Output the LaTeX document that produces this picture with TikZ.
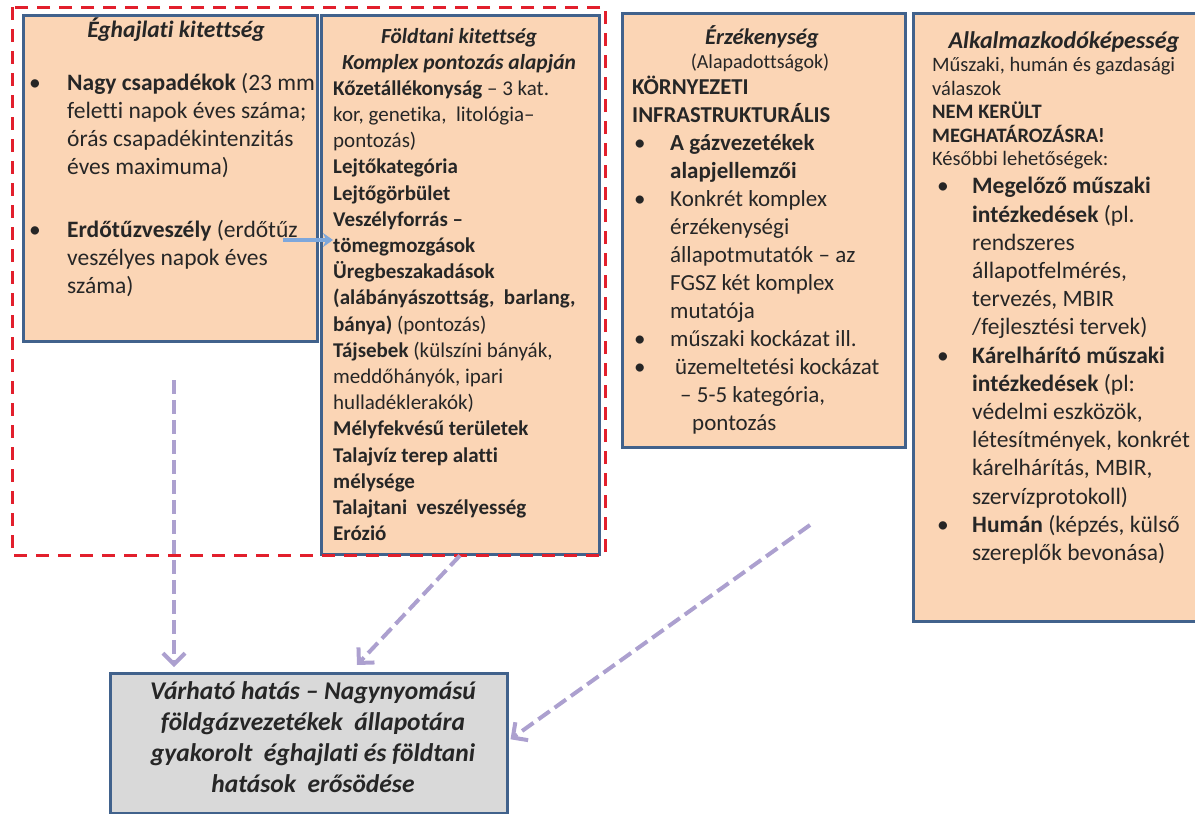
\documentclass[tikz,border=0pt]{standalone}
\usepackage{fontspec}
\setmainfont{Carlito}[Ligatures={TeX,NoCommon}]
\usetikzlibrary{arrows.meta,calc}
\definecolor{peach}{HTML}{FBD5B5}
\definecolor{frame}{HTML}{41628C}
\definecolor{reddash}{HTML}{E21F2C}
\definecolor{lilac}{HTML}{ACA0CF}
\definecolor{skyarrow}{HTML}{7EA7DB}
\definecolor{greyfill}{HTML}{D9D9D9}
\definecolor{ink}{HTML}{262626}
\begin{document}
\begin{tikzpicture}[x=1pt,y=-1pt,
  panel/.style={draw=frame, line width=2.5pt, fill=peach, anchor=north west, inner sep=0pt},
  resultbox/.style={draw=frame, line width=2.5pt, fill=greyfill, anchor=north west, inner sep=0pt},
  txt/.style={inner sep=0pt, align=left, anchor=north west, text=ink},
  ctxt/.style={inner sep=0pt, align=center, text=ink},
  impact/.style={draw=lilac, line width=4pt, dash pattern=on 14pt off 6pt,
    -{Straight Barb[length=11pt,width=22pt]}},
  flow/.style={draw=skyarrow, line width=3.5pt, -{Stealth[length=10pt,width=14pt]}},
  scope frame/.style={draw=reddash, line width=3pt, dash pattern=on 13pt off 9pt}
]
\useasboundingbox (0,0) rectangle (1195,814);
\clip (0,0) rectangle (1195,814);

% ---- panels ----
\node[panel, minimum width=294pt, minimum height=326pt] (b1) at (22,14) {};
\node[panel, minimum width=278pt, minimum height=539pt] (b2) at (320,14) {};
\node[panel, minimum width=283pt, minimum height=434pt] (b3) at (621,12) {};
\node[panel, minimum width=300pt, minimum height=608pt] (b4) at (912,12) {};
\node[resultbox, minimum width=397pt, minimum height=140pt] (b5) at (109,672) {};

% ---- climate exposure ----
\node[ctxt, anchor=base, font=\fontsize{23.5}{27}\selectfont\bfseries\itshape] (t1) at (176,37) {Éghajlati kitettség};
\node[txt, font=\fontsize{23.5}{28}\selectfont] (c1) at (28,70.4) {\strut\makebox[39pt][l]{\hspace{1pt}•}\textbf{Nagy csapadékok} (23 mm\\
\hspace*{39pt}feletti napok éves száma;\\
\hspace*{39pt}órás csapadékintenzitás\\
\hspace*{39pt}éves maximuma)};
\node[txt, font=\fontsize{23.5}{28}\selectfont] (c2) at (28,217.4) {\strut\makebox[39pt][l]{\hspace{1pt}•}\textbf{Erdőtűzveszély} (erdőtűz\\
\hspace*{39pt}veszélyes napok éves\\
\hspace*{39pt}száma)};

% ---- geological exposure ----
\node[ctxt, anchor=north, font=\fontsize{21.5}{26.2}\selectfont\bfseries\itshape] (t2) at (459,24.7) {\strut Földtani kitettség\\ Komplex pontozás alapján};
\node[txt, font=\fontsize{21}{26.2}\selectfont] (g1) at (333,76.7) {\strut\textbf{Kőzetállékonyság} – 3 kat.\\
kor, genetika,\ \ litológia–\\
pontozás)\\
\textbf{Lejtőkategória}\\
\textbf{Lejtőgörbület}\\
\textbf{Veszélyforrás –}\\
\textbf{tömegmozgások}\\
\textbf{Üregbeszakadások}\\
\textbf{(alábányászottság,\ \ barlang,}\\
\textbf{bánya)} (pontozás)\\
\textbf{Tájsebek} (külszíni bányák,\\
meddőhányók, ipari\\
hulladéklerakók)\\
\textbf{Mélyfekvésű területek}\\
\textbf{Talajvíz\ terep alatti}\\
\textbf{mélysége}\\
\textbf{Talajtani\ \ veszélyesség}\\
\textbf{Erózió}};

% ---- sensitivity ----
\node[ctxt, anchor=base, font=\fontsize{22.5}{26}\selectfont\bfseries\itshape] (t3) at (762,44) {Érzékenység};
\node[ctxt, anchor=base, font=\fontsize{20}{23}\selectfont] (s3) at (760,68) {(Alapadottságok)};
\node[txt, font=\fontsize{22.7}{25.5}\selectfont\bfseries] (k3) at (632,76) {\strut KÖRNYEZETI\\ INFRASTRUKTURÁLIS};
\node[txt, font=\fontsize{23}{28}\selectfont] (e3) at (632,130.4) {\strut\makebox[38pt][l]{\hspace{2pt}•}\textbf{A gázvezetékek}\\
\hspace*{38pt}\textbf{alapjellemzői}\\
\makebox[38pt][l]{\hspace{2pt}•}Konkrét komplex\\
\hspace*{38pt}érzékenységi\\
\hspace*{38pt}állapotmutatók – az\\
\hspace*{38pt}FGSZ két komplex\\
\hspace*{38pt}mutatója\\
\makebox[38pt][l]{\hspace{2pt}•}műszaki kockázat ill.\\
\makebox[38pt][l]{\hspace{2pt}•}\hspace*{5pt}üzemeltetési kockázat\\
\hspace*{48pt}– 5-5 kategória,\\
\hspace*{60pt}pontozás};

% ---- adaptive capacity ----
\node[ctxt, anchor=base, font=\fontsize{24}{28}\selectfont\bfseries\itshape] (t4) at (1064,48) {Alkalmazkodóképesség};
\node[txt, font=\fontsize{20.5}{23.5}\selectfont] (n4) at (932,55) {\strut Műszaki, humán és gazdasági\\
válaszok\\
\textbf{NEM KERÜLT}\\
\textbf{MEGHATÁROZÁSRA!}\\
Későbbi lehetőségek:};
\node[txt, font=\fontsize{23.5}{28.2}\selectfont] (m4) at (935,174) {\strut\makebox[37pt][l]{\hspace{2pt}•}\textbf{Megelőző műszaki}\\
\hspace*{37pt}\textbf{intézkedések} (pl.\\
\hspace*{37pt}rendszeres\\
\hspace*{37pt}állapotfelmérés,\\
\hspace*{37pt}tervezés, MBIR\\
\hspace*{37pt}/fejlesztési tervek)\\
\makebox[37pt][l]{\hspace{2pt}•}\textbf{Kárelhárító műszaki}\\
\hspace*{37pt}\textbf{intézkedések} (pl:\\
\hspace*{37pt}védelmi eszközök,\\
\hspace*{37pt}létesítmények, konkrét\\
\hspace*{37pt}kárelhárítás, MBIR,\\
\hspace*{37pt}szervízprotokoll)\\
\makebox[37pt][l]{\hspace{2pt}•}\textbf{Humán} (képzés, külső\\
\hspace*{37pt}szereplők bevonása)};

% ---- expected impact ----
\node[ctxt, anchor=north, font=\fontsize{25.5}{30.8}\selectfont\bfseries\itshape] (r5) at (313,678) {\strut Várható hatás – Nagynyomású\\
földgázvezetékek\ \ állapotára\\
gyakorolt\ \ éghajlati\ és földtani\\
hatások\ \ erősödése};

% ---- exposure frame ----
\draw[scope frame] (12,7) rectangle (605,555);

% ---- connectors ----
\coordinate (fs) at ($(b1.north east)+(-36,226)$);
\coordinate (fe) at ($(b2.north west)+(13,226)$);
\draw[flow] (fs) -- (fe);

\coordinate (i1) at (174,380);
\draw[impact] (i1) -- ($(b5.north west)+(65,-5)$);
\coordinate (i2) at ($(b2.south west)+(140,0)$);
\draw[impact] (i2) -- ($(b5.north west)+(248,-7)$);
\coordinate (i3) at (810,525);
\draw[impact] (i3) -- ($(b5.east)+(2,-4)$);
\end{tikzpicture}
\end{document}
